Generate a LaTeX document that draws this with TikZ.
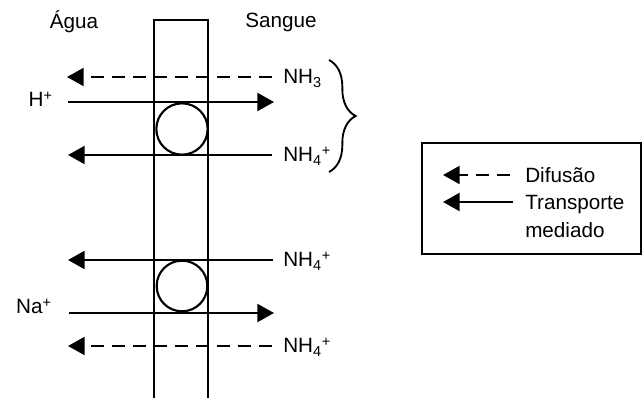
\documentclass[tikz,border=0pt]{standalone}
\usepackage{fontspec}
\setmainfont{Liberation Sans}
\usetikzlibrary{arrows.meta,decorations.pathreplacing}

\tikzset{
    lbl/.style={font=\fontsize{15.5}{21}\selectfont, inner sep=0pt},
    mediated/.style={line width=1.6pt, -{Triangle[length=12.5pt,width=13.5pt]}},
    diffusion/.style={mediated, dash pattern=on 9.75pt off 6pt},
}

\begin{document}
\begin{tikzpicture}[x=0.75pt, y=-0.75pt]
    % Page
    \path[use as bounding box, fill=white] (0,0) rectangle (642,398);

    % Membrane
    \draw[line width=1.6pt] (154,398) |- (208,20) -- (208,398);

    % Sides
    \node[lbl] (agua) at (74,22) {Água};
    \node[lbl] (sangue) at (281,22) {Sangue};

    % Carriers
    \node[circle, draw, line width=1.6pt, minimum size=38.5pt, inner sep=0pt] (carrier1) at (182,129) {};
    \node[circle, draw, line width=1.6pt, minimum size=38pt, inner sep=0pt] (carrier2) at (182,286) {};

    % Upper exchanger
    \node[lbl, anchor=base west] (nh3) at (283,84) {NH\textsubscript{3}};
    \node[lbl, anchor=base east] (hion) at (53,107) {H\textsuperscript{+}};
    \node[lbl, anchor=base west] (nh4a) at (283,162) {NH\textsubscript{4}\textsuperscript{+}};
    \coordinate (nh3s) at (272,77);
    \coordinate (nh3t) at (67,77);
    \coordinate (hs) at (68,102);
    \coordinate (ht) at (274,102);
    \coordinate (nh4as) at (272,155);
    \coordinate (nh4at) at (68,155);
    \draw[diffusion] (nh3s) -- (nh3t);
    \draw[mediated] (hs) -- (ht);
    \draw[mediated] (nh4as) -- (nh4at);

    % Brace over NH3 and NH4+
    \coordinate (bracetop) at (329,60);
    \coordinate (bracebot) at (329,172);
    \draw[line width=1.4pt, decorate, decoration={brace, amplitude=20pt}] (bracetop) -- (bracebot);

    % Lower exchanger
    \node[lbl, anchor=base west] (nh4b) at (283,267) {NH\textsubscript{4}\textsuperscript{+}};
    \node[lbl, anchor=base east] (naion) at (52,314) {Na\textsuperscript{+}};
    \node[lbl, anchor=base west] (nh4c) at (283,353) {NH\textsubscript{4}\textsuperscript{+}};
    \coordinate (nh4bs) at (273,260);
    \coordinate (nh4bt) at (68,260);
    \coordinate (nas) at (69,313);
    \coordinate (nat) at (274,313);
    \coordinate (nh4cs) at (272,346);
    \coordinate (nh4ct) at (68,346);
    \draw[mediated] (nh4bs) -- (nh4bt);
    \draw[mediated] (nas) -- (nat);
    \draw[diffusion] (nh4cs) -- (nh4ct);

    % Legend
    \draw[line width=1pt] (422,143) rectangle (641,254);
    \node[lbl, anchor=west] (difusao) at (525,175) {Difusão};
    \node[lbl, anchor=west, align=left] (transporte) at (525,216) {Transporte\\mediado};
    \coordinate (legds) at (510,175);
    \coordinate (legdt) at (443,175);
    \coordinate (legms) at (513,202);
    \coordinate (legmt) at (443,202);
    \draw[diffusion] (legds) -- (legdt);
    \draw[mediated] (legms) -- (legmt);
\end{tikzpicture}
\end{document}
